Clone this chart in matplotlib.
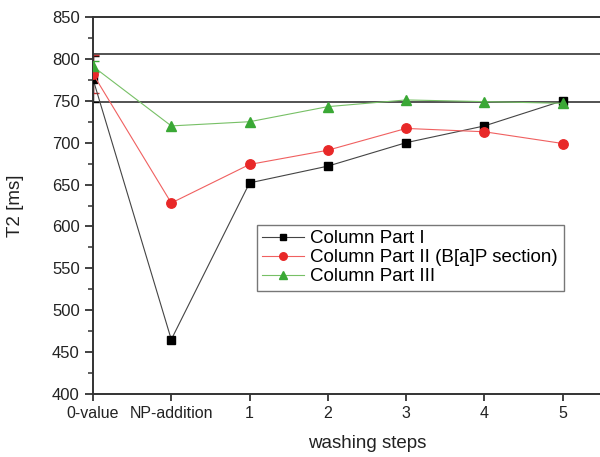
import matplotlib
matplotlib.use("Agg")
import matplotlib.pyplot as plt
import numpy as np

plt.rcParams['font.family'] = ['Liberation Sans', 'DejaVu Sans']

categories = ["0-value", "NP-addition", "1", "2", "3", "4", "5"]
part1 = [776, 465, 652, 672, 700, 720, 750]
part2 = [782, 628, 674, 691, 717, 713, 699]
part3 = [791, 720, 725, 743, 751, 749, 747]
err1 = [27, 0, 0, 0, 0, 0, 0]
err2 = [23, 0, 0, 0, 0, 0, 0]
err3 = [7, 0, 0, 0, 0, 0, 0]
ref_lines = [806, 749]
labels = ["Column Part I", "Column Part II (B[a]P section)", "Column Part III"]

fig = plt.figure(figsize=(6.0, 4.57), dpi=100)
ax = fig.add_axes([93/600, 63/457, 548/600, 377/457])

x = np.arange(len(categories))
gray = '#333333'
for yv in ref_lines:
    ax.axhline(yv, color='#444444', lw=1.3, zorder=1)

ax.plot(x, part1, '-s', color='#444444', lw=0.8, ms=5.8, mfc='black', mec='black',
        label=labels[0], zorder=3)
ax.plot(x, part2, '-o', color='#f06060', lw=0.8, ms=6.8, mfc='#e82828', mec='#e82828',
        label=labels[1], zorder=3)
ax.plot(x, part3, '-^', color='#77c066', lw=0.8, ms=7, mfc='#3aa835', mec='#3aa835',
        label=labels[2], zorder=3)

ax.errorbar(x[:1], part1[:1], yerr=err1[:1], fmt='none', ecolor='black', capsize=4, lw=1, zorder=2)
ax.errorbar(x[:1], part2[:1], yerr=err2[:1], fmt='none', ecolor='#c03030', capsize=4, lw=1, zorder=2)
ax.errorbar(x[:1], part3[:1], yerr=err3[:1], fmt='none', ecolor='#3aa835', capsize=4, lw=1, zorder=2)

ax.set_xlim(0, 7)
ax.set_ylim(400, 850)
ax.set_xticks(x)
ax.set_xticklabels(categories, fontsize=11.5)
ax.set_yticks(np.arange(400, 851, 50))
ax.set_yticks(np.arange(400, 851, 25), minor=True)
ax.tick_params(axis='y', which='major', labelsize=12, length=6, width=1.3, color=gray, labelcolor='#222222')
ax.tick_params(axis='y', which='minor', length=3.5, width=1.1, color=gray)
ax.tick_params(axis='x', which='major', length=5, width=1.3, color=gray, labelcolor='#222222', pad=4)
for s in ax.spines.values():
    s.set_linewidth(1.4)
    s.set_color(gray)

ax.set_xlabel("washing steps", fontsize=13.5, color='#222222', labelpad=10)
ax.set_ylabel("T2 [ms]", fontsize=13.5, color='#222222', labelpad=20)

leg = ax.legend(loc='lower left', bbox_to_anchor=(0.299, 0.273), borderaxespad=0,
                fontsize=13.5, frameon=True, fancybox=False, edgecolor='#555555',
                handlelength=2.2, handletextpad=0.35, labelspacing=0.1, borderpad=0.3,
                markerscale=0.8)
leg.get_frame().set_linewidth(1.0)

fig.savefig("out.png", dpi=100)
